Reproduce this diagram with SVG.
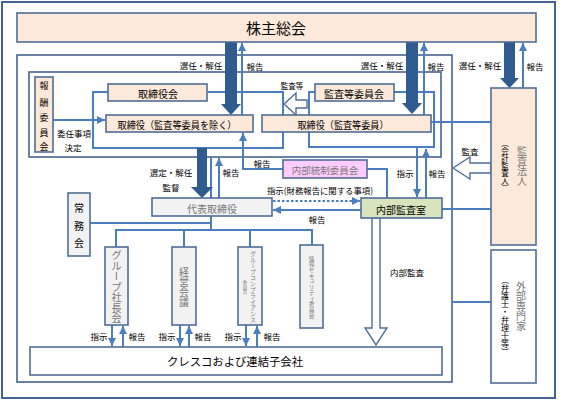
<svg xmlns="http://www.w3.org/2000/svg" width="567" height="401" viewBox="0 0 567 401">
<defs>
<style>
text{font-family:"Noto Sans CJK JP","Noto Sans",sans-serif;fill:#000;}
.lbl{font-size:8.5px;dominant-baseline:central;text-anchor:middle;}
.bt{font-size:10px;dominant-baseline:central;text-anchor:middle;}
.gt{fill:#777;}
.vt{writing-mode:vertical-rl;text-anchor:middle;}
.frame{fill:none;stroke:#44638f;stroke-width:1.6;}
.box{stroke:#4f6d96;stroke-width:1.6;}
.peach{fill:#fde9d9;}
.gray{fill:#f2f2f2;}
.white{fill:#fff;}
.ln{fill:none;stroke:#4a7ebf;stroke-width:2;}
.dot{fill:none;stroke:#4a7ebf;stroke-width:2.2;stroke-dasharray:2.5 2;}
.thick{fill:#2f5b8f;}
.hollow{fill:#fff;stroke:#4f6d96;stroke-width:1.4;}
</style>
<marker id="ah" viewBox="0 0 10 10" refX="10" refY="5" markerWidth="8" markerHeight="8" markerUnits="userSpaceOnUse" orient="auto"><path d="M0,0 L10,5 L0,10 z" fill="#4a7ebf"/></marker>
</defs>
<rect width="567" height="401" fill="#fff"/>

<!-- frames -->
<g id="frames">
<rect class="frame" x="2" y="2" width="553" height="396" style="stroke-width:2"/>
<rect class="frame" x="17" y="55" width="435" height="327"/>
<rect class="frame" x="29" y="72" width="412" height="85"/>
</g>

<!-- connectors -->
<g id="connectors">
<!-- surrounds -->
<polyline class="ln" points="108,92 93,92 93,148 283,148 283,92 208,92"/>
<rect class="ln" x="309" y="92" width="125" height="55"/>
<!-- 報酬委員会 -> 取締役 -->
<line class="ln" x1="53" y1="120" x2="105" y2="120" marker-end="url(#ah)"/>
<!-- reports up -->
<line class="ln" x1="242" y1="115" x2="242" y2="43" marker-end="url(#ah)"/>
<line class="ln" x1="424" y1="115" x2="424" y2="43" marker-end="url(#ah)"/>
<line class="ln" x1="523" y1="88" x2="523" y2="43" marker-end="url(#ah)"/>
<!-- 取締役(監査等委員) -> 監査法人 -->
<line class="ln" x1="431" y1="122" x2="491" y2="122"/>
<!-- 内部監査室 -> 監査法人, 外部専門家 -->
<line class="ln" x1="442" y1="209" x2="491" y2="209"/>
<line class="ln" x1="452" y1="302" x2="491" y2="302"/>
<!-- 監査等委員 <-> 内部監査室 -->
<line class="ln" x1="417" y1="148" x2="417" y2="197" marker-end="url(#ah)"/>
<line class="ln" x1="426" y1="198" x2="426" y2="149" marker-end="url(#ah)"/>
<!-- 内部統制委員会 -->
<polyline class="ln" points="367,169 387,169 387,198"/>
<polyline class="ln" points="283,169 243,169 243,133" marker-end="url(#ah)"/>
<!-- 代表取締役 -->
<line class="ln" x1="219" y1="198" x2="219" y2="158" marker-end="url(#ah)"/>
<line class="ln" x1="211" y1="157" x2="211" y2="230"/>
<line class="dot" x1="273" y1="201" x2="360" y2="201" marker-end="url(#ah)"/>
<line class="ln" x1="361" y1="210" x2="273" y2="210" marker-end="url(#ah)"/>
<!-- branches -->
<line class="ln" x1="90" y1="223" x2="211" y2="223"/>
<polyline class="ln" points="116,247 116,230 312,230 312,245"/>
<line class="ln" x1="184" y1="230" x2="184" y2="247"/>
<line class="ln" x1="250" y1="230" x2="250" y2="247"/>
<!-- sub committees <-> クレスコ -->
<line class="ln" x1="112" y1="325" x2="112" y2="346" marker-end="url(#ah)"/>
<line class="ln" x1="123" y1="347" x2="123" y2="326" marker-end="url(#ah)"/>
<line class="ln" x1="180" y1="325" x2="180" y2="346" marker-end="url(#ah)"/>
<line class="ln" x1="189" y1="347" x2="189" y2="326" marker-end="url(#ah)"/>
<line class="ln" x1="246" y1="325" x2="246" y2="346" marker-end="url(#ah)"/>
<line class="ln" x1="257" y1="347" x2="257" y2="326" marker-end="url(#ah)"/>
<!-- thick arrows -->
<polygon class="thick" points="225,42 237,42 237,104 241,104 231,115 221,104 225,104"/>
<polygon class="thick" points="406,42 418,42 418,103 422,103 412,114 402,103 406,103"/>
<polygon class="thick" points="504,42 515,42 515,78 519,78 509.5,88 500,78 504,78"/>
<polygon class="thick" points="197,148 207,148 207,187 213,187 202,198 191,187 197,187"/>
<!-- hollow arrows -->
<polygon class="hollow" points="284,104 296,93 296,100 307,100 307,108 296,108 296,115"/>
<polygon class="hollow" points="453,168 470,157 470,163 491,163 491,173 470,173 470,179"/>
<polygon class="hollow" points="372,218 380,218 380,328 387,328 376,345 365,328 372,328"/>
</g>

<!-- nodes -->
<g id="kabunushi"><rect class="box peach" x="17" y="13" width="519" height="29"/><text class="bt" x="276" y="27" style="font-size:15px">株主総会</text></g>
<g id="housyu"><rect class="box peach" x="35" y="77" width="18" height="75"/>
<text class="bt" style="font-size:9px"><tspan x="44" y="85">報</tspan><tspan x="44" y="102">酬</tspan><tspan x="44" y="117">委</tspan><tspan x="44" y="132">員</tspan><tspan x="44" y="146">会</tspan></text></g>
<g id="torishimariyakukai"><rect class="box peach" x="108" y="84" width="99" height="17"/><text class="bt" x="158" y="93">取締役会</text></g>
<g id="torishimariyaku"><rect class="box peach" x="106" y="115" width="147" height="17"/><text class="bt" x="177" y="124" textLength="119" lengthAdjust="spacingAndGlyphs">取締役（監査等委員を除く）</text></g>
<g id="kansatouiinkai"><rect class="box peach" x="315" y="84" width="79" height="17"/><text class="bt" x="354" y="93">監査等委員会</text></g>
<g id="torishimariyaku-kansa"><rect class="box peach" x="262" y="115" width="169" height="17"/><text class="bt" x="343" y="124" textLength="91" lengthAdjust="spacingAndGlyphs">取締役（監査等委員）</text></g>
<g id="naibutousei"><rect class="box" x="283" y="160" width="84" height="18" fill="#ffccff"/><text class="bt gt" x="325" y="170" style="font-size:9.5px">内部統制委員会</text></g>
<g id="naibukansa"><rect class="box" x="361" y="198" width="81" height="20" fill="#d7e4bd"/><text class="bt" x="401" y="209">内部監査室</text></g>
<g id="daihyou"><rect class="box gray" x="152" y="198" width="120" height="18"/><text class="bt gt" x="212" y="208">代表取締役</text></g>
<g id="joumukai"><rect class="box gray" x="68" y="193" width="22" height="63"/>
<text class="bt" style="font-size:10px"><tspan x="79" y="207">常</tspan><tspan x="79" y="225">務</tspan><tspan x="79" y="242">会</tspan></text></g>
<g id="group-shachou"><rect class="box gray" x="105" y="247" width="23" height="78"/><text class="vt gt" x="116.5" y="287" style="font-size:10.5px">グループ社長会</text></g>
<g id="keiei"><rect class="box gray" x="172" y="247" width="24" height="78"/><text class="vt gt" x="184" y="287" style="font-size:10px">経営会議</text></g>
<g id="compliance"><rect class="box gray" x="238" y="247" width="24" height="78"/><text class="vt gt" x="253" y="287" style="font-size:6px">グループコンプライアンス</text><text class="vt gt" x="245" y="287" style="font-size:4.5px">委員会</text></g>
<g id="security"><rect class="box gray" x="300" y="245" width="23" height="83"/><text class="vt gt" x="311.5" y="287" style="font-size:5.7px">情報セキュリティ委員会</text></g>
<g id="cresco"><rect class="box white" x="30" y="347" width="412" height="28"/><text class="bt" x="235" y="361" style="font-size:11.5px" textLength="136" lengthAdjust="spacingAndGlyphs">クレスコおよび連結子会社</text></g>
<g id="kansahoujin"><rect class="box peach" x="491" y="88" width="45" height="157"/><text class="vt gt" x="522" y="166" style="font-size:10px">監査法人</text><text class="vt" x="505" y="166" style="font-size:7.5px">（会計監査人）</text></g>
<g id="gaibu"><rect class="box white" x="491" y="250" width="45" height="133"/><text class="vt gt" x="521" y="306" style="font-size:10px">外部専門家</text><text class="vt" x="505" y="316" style="font-size:8px">（弁護士・弁理士等）</text></g>

<!-- labels -->
<g id="labels">
<text class="lbl" x="201" y="65">選任・解任</text>
<text class="lbl" x="255" y="66">報告</text>
<text class="lbl" x="382" y="65">選任・解任</text>
<text class="lbl" x="436" y="66">報告</text>
<text class="lbl" x="480" y="65">選任・解任</text>
<text class="lbl" x="535" y="66">報告</text>
<text class="lbl" x="292" y="85" style="font-size:7.5px">監査等</text>
<text class="lbl" x="74" y="133">委任事項</text>
<text class="lbl" x="73" y="147">決定</text>
<text class="lbl" x="171" y="172">選定・解任</text>
<text class="lbl" x="171" y="187">監督</text>
<text class="lbl" x="231" y="172">報告</text>
<text class="lbl" x="262" y="163">報告</text>
<text class="lbl" x="470" y="151">監査</text>
<text class="lbl" x="405" y="173">指示</text>
<text class="lbl" x="437" y="173">報告</text>
<text class="lbl" x="320" y="190" textLength="106" lengthAdjust="spacingAndGlyphs">指示(財務報告に関する事項)</text>
<text class="lbl" x="317" y="219">報告</text>
<text class="lbl" x="407" y="272">内部監査</text>
<text class="lbl" x="99" y="336">指示</text>
<text class="lbl" x="137" y="336">報告</text>
<text class="lbl" x="167" y="336">指示</text>
<text class="lbl" x="203" y="336">報告</text>
<text class="lbl" x="233" y="336">指示</text>
<text class="lbl" x="272" y="336">報告</text>
</g>
</svg>
